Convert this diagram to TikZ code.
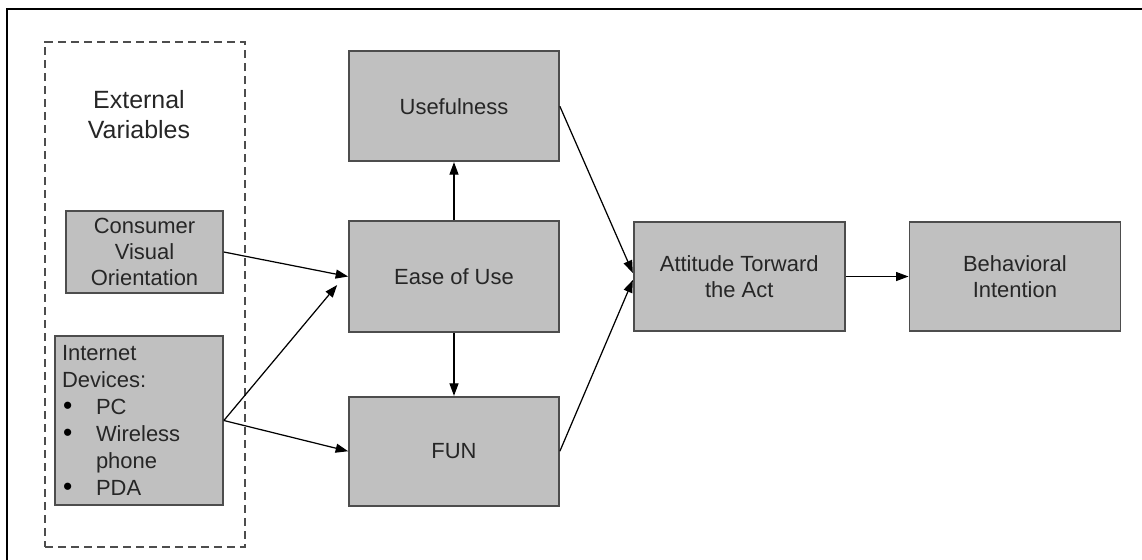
\documentclass[tikz,border=0pt]{standalone}
\usepackage{fontspec}
\setmainfont{Liberation Sans}
\usetikzlibrary{arrows.meta,positioning}
\definecolor{boxgray}{HTML}{C0C0C0}
\definecolor{edgegray}{HTML}{4D4D4D}
\definecolor{txtgray}{HTML}{262626}
\newcommand{\devbullet}{\makebox[0.68cm][l]{\hspace{0.02cm}\textcolor{black}{\fontsize{15}{15}\selectfont\textbullet}}}

\begin{document}
\begin{tikzpicture}[x=0.02cm,y=-0.02cm,
      box/.style={draw=edgegray,fill=boxgray,line width=1pt,inner sep=0pt,align=center,
        text=txtgray,font=\fontsize{12.5}{14.8}\selectfont},
      arr/.style={-{Triangle[length=0.25cm,width=0.18cm]},line width=0.7pt,draw=black}]
    \useasboundingbox (0,0) rectangle (1142,559);
    \draw[line width=1.2pt] (7,9) rectangle (1170,590);
    % external variables
    \node[draw=edgegray,dash pattern=on 0.16cm off 0.1cm,line width=0.7pt,inner sep=0pt,
      minimum width=4.0cm,minimum height=10.1cm] (ext) at (145,294.5) {};
    \node[align=center,text=txtgray,font=\fontsize{14.2}{17}\selectfont] (extlbl) at (139,115)
      {External\\Variables};
    \node[box,minimum width=3.14cm,minimum height=1.64cm] (con) at (144.5,252)
      {Consumer\\Visual\\Orientation};
    \node[box,align=left,text width=3.08cm,inner xsep=0.14cm,minimum height=3.38cm,
      font=\fontsize{12.5}{15.3}\selectfont] (dev) at (139,420.5)
      {Internet\\Devices:\\\devbullet PC\\\devbullet Wireless\\\hspace*{0.68cm}phone\\\devbullet PDA};
    % model
    \node[box,minimum width=4.2cm,minimum height=2.22cm] (ease) at (454,276.5) {Ease of Use};
    \node[box,minimum width=4.2cm,minimum height=2.2cm,above=1.16cm of ease] (use) {Usefulness};
    \node[box,minimum width=4.2cm,minimum height=2.18cm,below=1.26cm of ease] (fun) {FUN};
    \node[box,minimum width=4.22cm,minimum height=2.18cm,right=1.46cm of ease] (att)
      {Attitude Torward\\the Act};
    \node[box,minimum width=4.22cm,minimum height=2.18cm,right=1.26cm of att] (beh)
      {Behavioral\\Intention};
    \draw[arr] (con.east) -- (ease.west);
    \draw[arr] (dev.east) -- ([xshift=-0.22cm,yshift=-0.17cm]ease.west);
    \draw[arr] (dev.east) -- (fun.west);
    \draw[arr] (ease) -- (use);
    \draw[arr] (ease) -- (fun);
    \draw[arr] (use.east) -- ([yshift=0.07cm]att.west);
    \draw[arr] (fun.east) -- ([yshift=-0.07cm]att.west);
    \draw[arr] (att) -- (beh);
  \end{tikzpicture}
\end{document}
